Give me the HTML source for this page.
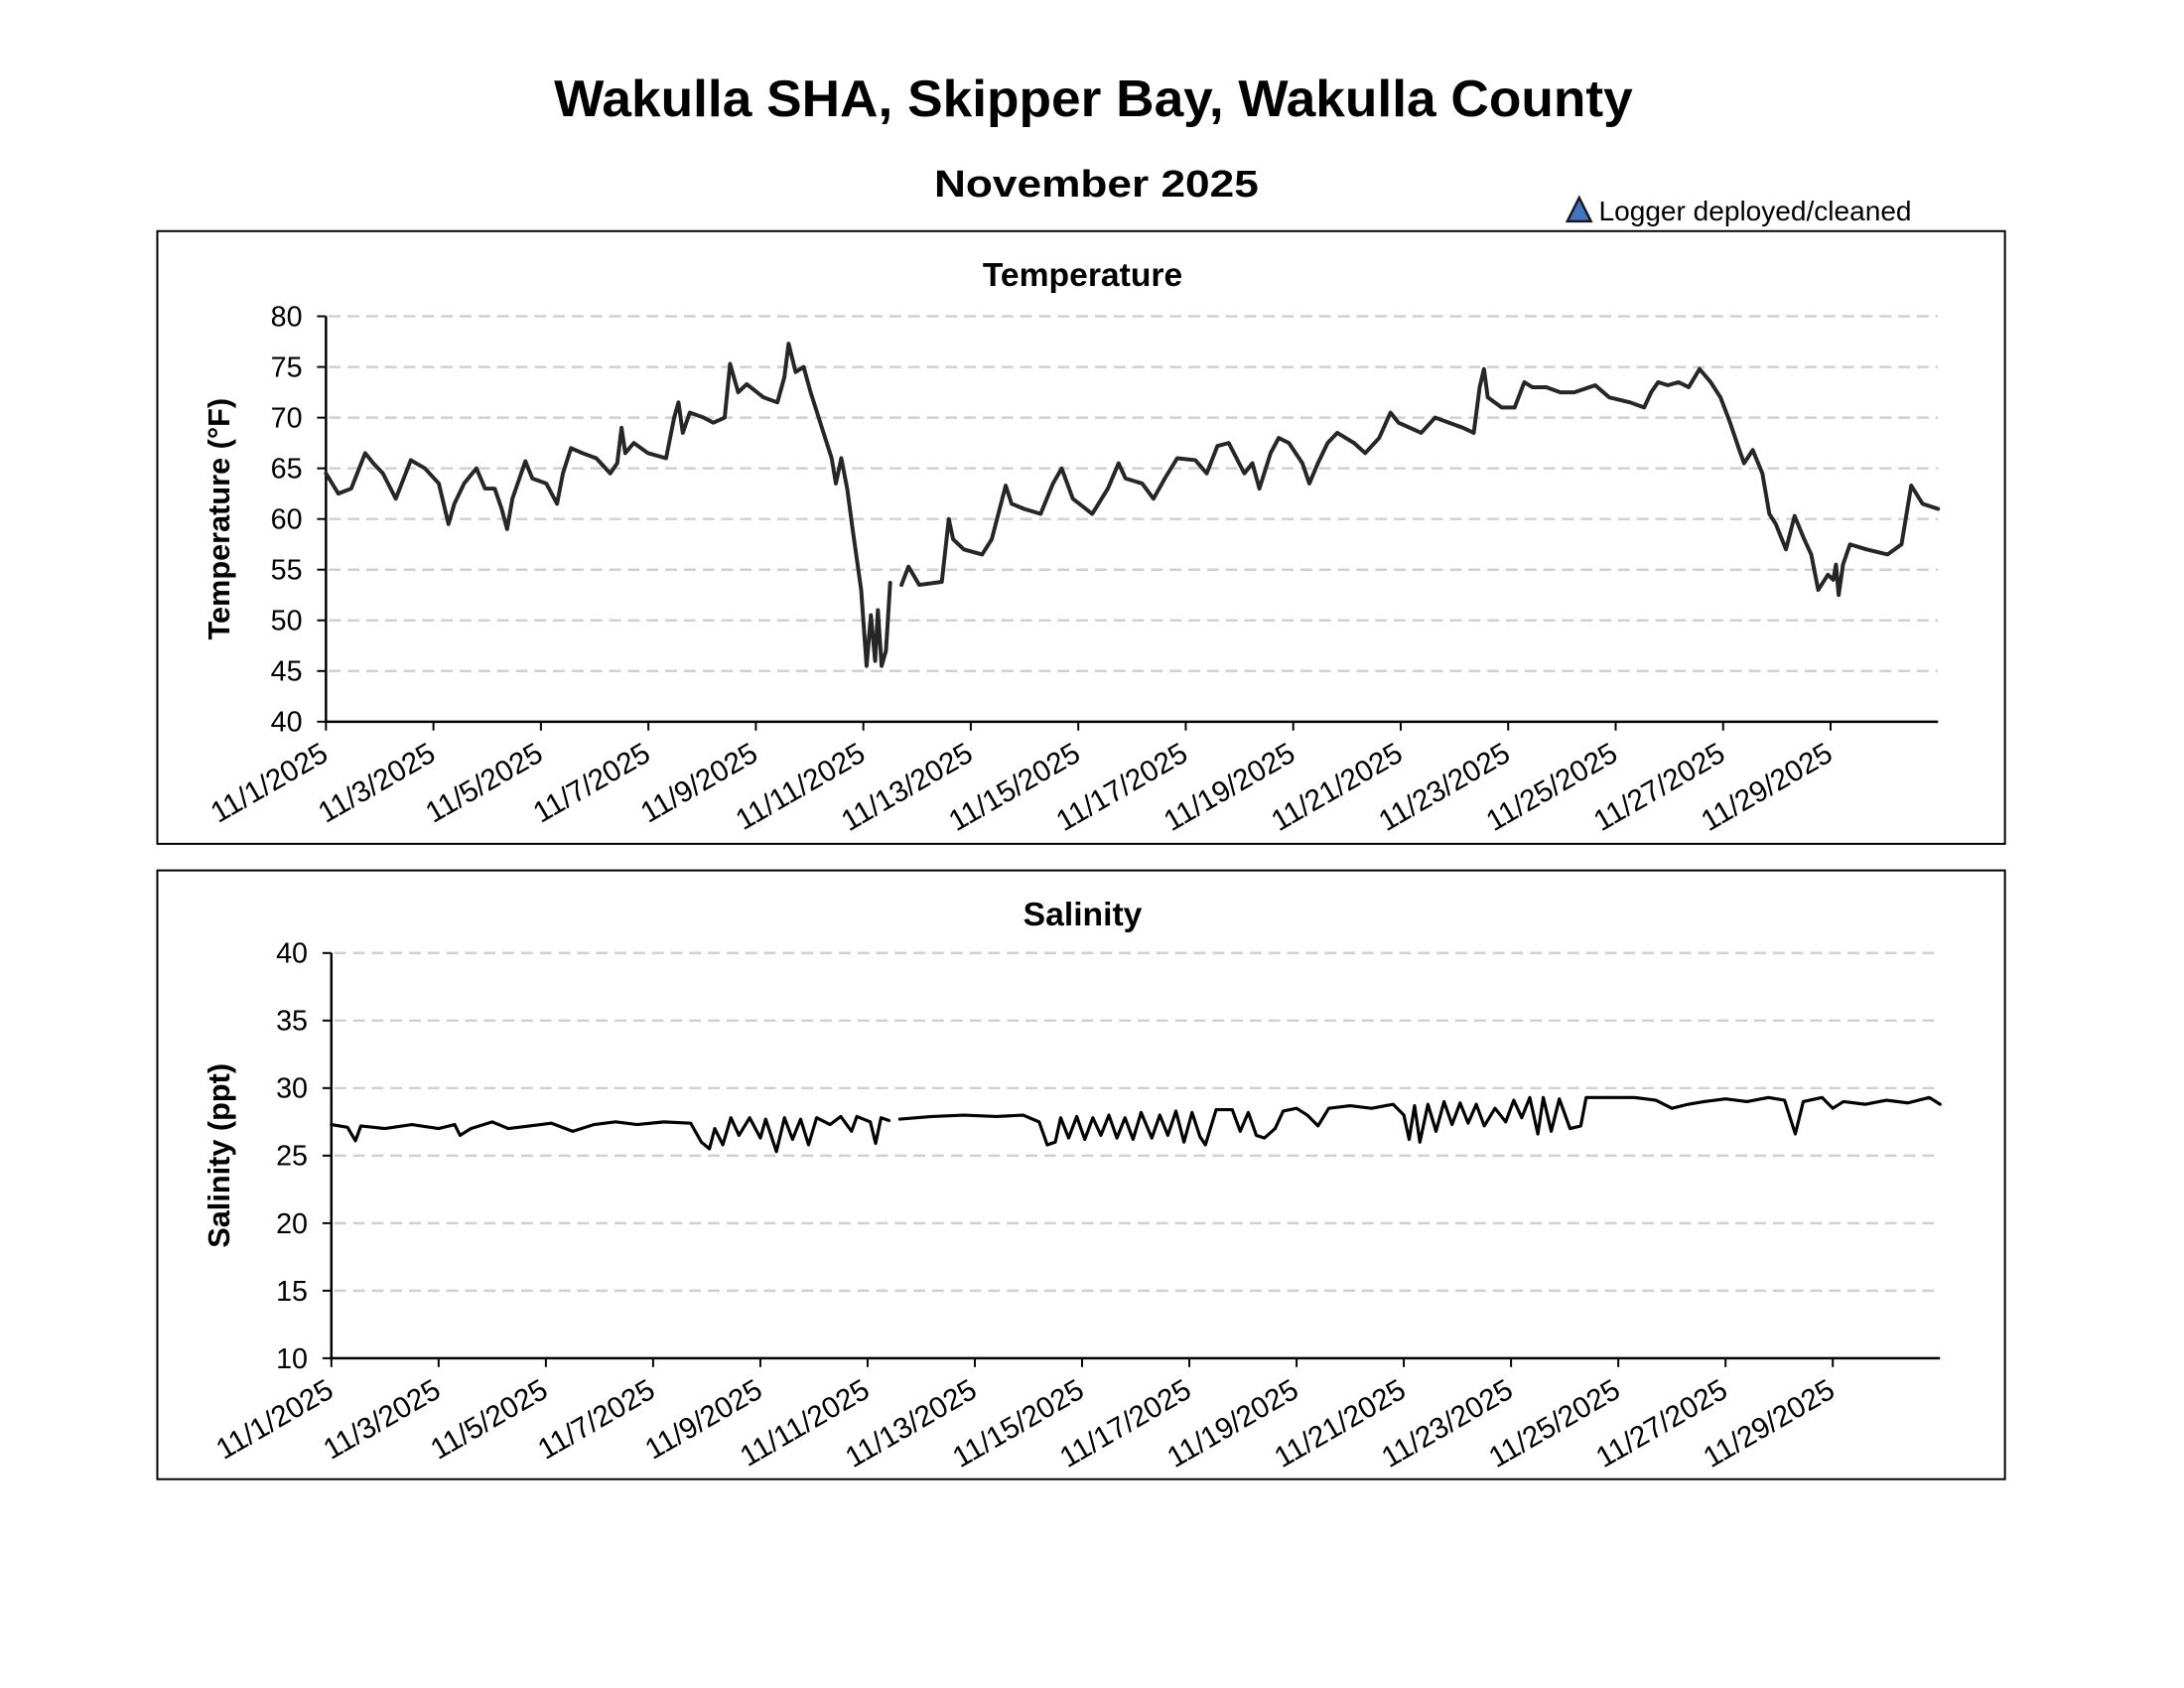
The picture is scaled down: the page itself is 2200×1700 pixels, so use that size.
<!DOCTYPE html>
<html><head><meta charset="utf-8"><style>
html,body{margin:0;padding:0;background:#fff;}
svg{display:block;font-family:"Liberation Sans",Arial,sans-serif;}
</style></head><body>
<svg id="root" width="2200" height="1700" viewBox="0 0 2200 1700" xmlns="http://www.w3.org/2000/svg">
<g transform="scale(0.9905)">
<text x="1112" y="118" text-anchor="middle" font-size="52" font-weight="bold" textLength="1097" lengthAdjust="spacingAndGlyphs">Wakulla SHA, Skipper Bay, Wakulla County</text>
<text x="1115" y="200" text-anchor="middle" font-size="38" font-weight="bold" textLength="330" lengthAdjust="spacingAndGlyphs">November 2025</text>
<g>
<polygon points="1594,225 1606,201 1618,225" fill="#4472c4" stroke="#1a1a1a" stroke-width="2.5"/>
<text x="1626" y="224" font-size="28" textLength="318" lengthAdjust="spacingAndGlyphs">Logger deployed/cleaned</text>
</g>
<rect x="160" y="235" width="1879" height="623" fill="none" stroke="#000" stroke-width="2"/>
<rect x="160" y="885" width="1879" height="619" fill="none" stroke="#000" stroke-width="2"/>
<g id="tempG"></g>
<g id="salG"></g>
</g>
</svg>
<script>
const xTickLabels = ["11/1/2025","11/3/2025","11/5/2025","11/7/2025","11/9/2025","11/11/2025","11/13/2025","11/15/2025","11/17/2025","11/19/2025","11/21/2025","11/23/2025","11/25/2025","11/27/2025","11/29/2025"];
const xTickDays = [0,2,4,6,8,10,12,14,16,18,20,22,24,26,28];
const tempTicks = [40,45,50,55,60,65,70,75,80];
const salTicks = [10,15,20,25,30,35,40];
const tempDays = [0,.23,.47,.73,.88,1.06,1.30,1.58,1.84,2.10,2.28,2.39,2.57,2.80,2.96,3.14,3.27,3.37,3.47,3.71,3.84,4.10,4.30,4.41,4.56,4.77,5.03,5.29,5.42,5.50,5.57,5.73,5.99,6.33,6.48,6.56,6.64,6.77,7.03,7.21,7.42,7.52,7.67,7.83,8.14,8.40,8.53,8.61,8.74,8.89,9.02,9.23,9.41,9.49,9.59,9.70,9.80,9.96,10.06,10.14,10.22,10.27,10.34,10.42,10.50,10.6,10.71,10.84,11.04,11.46,11.59,11.67,11.87,12.21,12.39,12.65,12.76,12.99,13.30,13.53,13.69,13.90,14.26,14.55,14.75,14.88,15.19,15.40,15.61,15.84,16.18,16.39,16.59,16.80,17.09,17.24,17.37,17.58,17.73,17.92,18.17,18.30,18.46,18.64,18.82,19.13,19.34,19.60,19.81,19.96,20.17,20.38,20.64,20.90,21.16,21.36,21.47,21.55,21.62,21.88,22.12,22.30,22.45,22.71,22.97,23.23,23.62,23.88,24.27,24.53,24.66,24.79,24.97,25.17,25.36,25.56,25.77,25.95,26.13,26.29,26.39,26.55,26.73,26.86,26.98,27.17,27.33,27.51,27.64,27.77,27.95,28.05,28.10,28.15,28.23,28.36,28.67,29.06,29.32,29.50,29.71,30.0];
const tempVals = [64.5,62.5,63,66.5,65.5,64.5,62,65.8,65,63.5,59.5,61.5,63.5,65,63,63,61,59,62,65.7,64,63.5,61.5,64.5,67,66.5,66,64.5,65.5,69,66.5,67.5,66.5,66,70,71.5,68.5,70.5,70,69.5,70,75.3,72.5,73.3,72,71.5,74,77.3,74.5,75,72.5,69,66,63.5,66,63,59,53,45.5,50.5,46,51,45.5,47,53.7,null,53.5,55.3,53.5,53.8,60,58,57,56.5,58,63.3,61.5,61,60.5,63.5,65,62,60.5,63,65.5,64,63.5,62,64,66,65.8,64.5,67.2,67.5,64.5,65.5,63,66.5,68,67.5,65.5,63.5,65.5,67.5,68.5,67.5,66.5,68,70.5,69.5,69,68.5,70,69.5,69,68.5,73,74.8,72,71,71,73.5,73,73,72.5,72.5,73.2,72,71.5,71,72.5,73.5,73.2,73.5,73,74.8,73.5,72,69.5,67,65.5,66.8,64.5,60.5,59.5,57,60.3,58,56.5,53,54.5,54,55.5,52.5,55.5,57.5,57,56.5,57.5,63.3,61.5,61];
const salDays = [0,0.3,0.45,0.55,1,1.5,2,2.3,2.4,2.6,3,3.3,3.7,4.1,4.5,4.9,5.3,5.7,6.2,6.7,6.9,7.05,7.15,7.3,7.45,7.6,7.8,8.0,8.1,8.3,8.45,8.6,8.75,8.9,9.05,9.3,9.5,9.7,9.8,10.05,10.15,10.25,10.4,10.5,10.6,11.2,11.8,12.4,12.9,13.2,13.35,13.5,13.6,13.75,13.9,14.05,14.2,14.35,14.5,14.65,14.8,14.95,15.1,15.3,15.45,15.6,15.75,15.9,16.05,16.2,16.3,16.5,16.8,16.95,17.1,17.25,17.4,17.6,17.75,18.0,18.2,18.4,18.6,19.0,19.4,19.8,20.0,20.1,20.2,20.3,20.45,20.6,20.75,20.9,21.05,21.2,21.35,21.5,21.7,21.9,22.05,22.2,22.35,22.5,22.6,22.75,22.9,23.1,23.3,23.4,23.8,24.3,24.7,25.0,25.3,25.6,26.0,26.4,26.8,27.1,27.3,27.45,27.8,28.0,28.2,28.6,29,29.4,29.8,30];
const salVals = [27.3,27.1,26.1,27.2,27.0,27.3,27.0,27.3,26.5,27.0,27.5,27.0,27.2,27.4,26.8,27.3,27.5,27.3,27.5,27.4,26,25.5,27,25.8,27.8,26.5,27.8,26.3,27.7,25.3,27.8,26.2,27.7,25.8,27.8,27.3,27.9,26.8,27.9,27.5,25.9,27.8,27.6,null,27.7,27.9,28,27.9,28,27.5,25.8,26.0,27.8,26.3,27.9,26.2,27.8,26.5,28,26.3,27.8,26.2,28.2,26.3,28,26.5,28.3,26.0,28.2,26.4,25.8,28.4,28.4,26.8,28.2,26.5,26.3,27,28.3,28.5,28,27.2,28.5,28.7,28.5,28.8,28.0,26.2,28.7,26,28.8,26.8,29,27.3,28.9,27.4,28.8,27.2,28.5,27.5,29.1,27.8,29.3,26.6,29.3,26.8,29.2,27,27.2,29.3,29.3,29.3,29.1,28.5,28.8,29,29.2,29,29.3,29.1,26.6,29,29.3,28.5,29,28.8,29.1,28.9,29.3,28.8];

const NS = "http://www.w3.org/2000/svg";
function mk(tag, attrs, parent){const e=document.createElementNS(NS,tag);for(const k in attrs)e.setAttribute(k,attrs[k]);parent.appendChild(e);return e;}

function drawChart(g, cfg){
  const xs = d => cfg.x0 + (d/30)*(cfg.x1-cfg.x0);
  const ys = v => cfg.yb + (v-cfg.vmin)/(cfg.vmax-cfg.vmin)*(cfg.yt-cfg.yb);
  const t = mk("text",{x:1101,y:cfg.titleY,"text-anchor":"middle","font-size":34,"font-weight":"bold"},g);
  t.textContent = cfg.title;
  
  
  cfg.ticks.forEach(v=>{
    const y = ys(v);
    if (v !== cfg.vmin) {
      const gl = mk("line",{x1:cfg.x0+3,x2:cfg.x1,y1:y,y2:y,stroke:"#d0d0d0","stroke-width":2.5,"stroke-dasharray":"12,7"},g);
      
      
    }
    const tk = mk("line",{x1:cfg.x0-9,x2:cfg.x0,y1:y,y2:y,stroke:"#000","stroke-width":2},g);
    
    
    const lb = mk("text",{x:cfg.x0-24,y:y+10,"text-anchor":"end","font-size":29},g);
    lb.textContent = v;
    
    
  });
  const ax = mk("path",{d:`M${cfg.x0},${cfg.yt} V${cfg.yb} H${cfg.x1}`,fill:"none",stroke:"#000","stroke-width":2.5},g);
  
  
  xTickDays.forEach((d,i)=>{
    const x = xs(d);
    const tk = mk("line",{x1:x,x2:x,y1:cfg.yb,y2:cfg.yb+9,stroke:"#000","stroke-width":2},g);
    
    
    const lb = mk("text",{x:0,y:0,"text-anchor":"end","font-size":30,transform:`translate(${x+4},${cfg.yb+38}) rotate(-30)`},g);
    lb.textContent = xTickLabels[i];
    
    
  });
  const yl = mk("text",{x:0,y:0,"text-anchor":"middle","font-size":31,"font-weight":"bold",transform:`translate(233,${(cfg.yt+cfg.yb)/2}) rotate(-90)`},g);
  yl.textContent = cfg.ylabel;
  
  
  let d = "", pen = false;
  cfg.days.forEach((dd,i)=>{
    const v = cfg.vals[i];
    if (v === null) { pen = false; return; }
    d += (pen ? "L" : "M") + xs(dd).toFixed(1) + "," + ys(v).toFixed(1) + " ";
    pen = true;
  });
  const ln = mk("path",{d:d,fill:"none",stroke:cfg.color,"stroke-width":cfg.sw,"stroke-linejoin":"round","stroke-linecap":"round"},g);
  
  
}

drawChart(document.getElementById("tempG"),{key:"temperature",title:"Temperature",titleY:291,ylabel:"Temperature (°F)",x0:331.5,x1:1971,yt:321.6,yb:733.8,vmin:40,vmax:80,ticks:tempTicks,days:tempDays,vals:tempVals,color:"#262626",sw:4});
drawChart(document.getElementById("salG"),{key:"salinity",title:"Salinity",titleY:941,ylabel:"Salinity (ppt)",x0:337,x1:1973,yt:969,yb:1381,vmin:10,vmax:40,ticks:salTicks,days:salDays,vals:salVals,color:"#000",sw:3.2});
</script>
</body></html>
